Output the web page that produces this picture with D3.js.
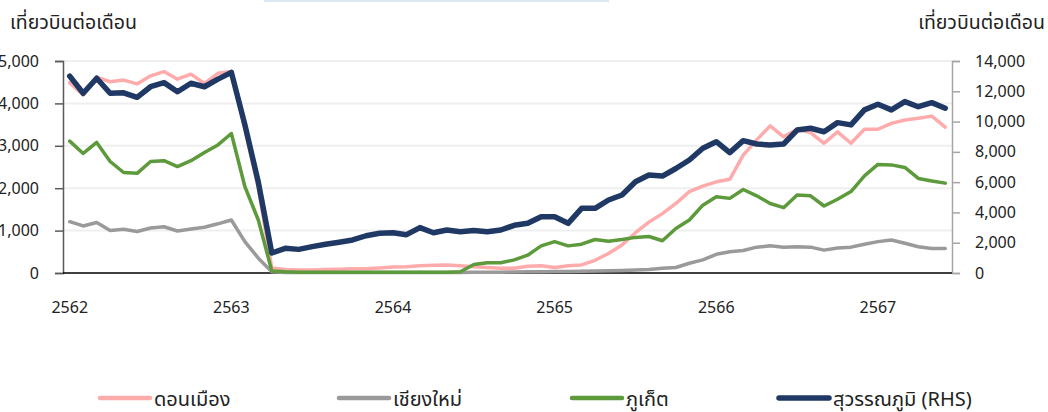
<!DOCTYPE html>
<html>
<head>
<meta charset="utf-8">
<script src="https://cdn.jsdelivr.net/npm/d3@7"></script>
<style>
  body { margin: 0; background: #fff; }
  svg { display: block; font-family: "Noto Sans", "Noto Sans Thai", sans-serif; }
</style>
</head>
<body>
<svg id="chart"></svg>
<script>
// Monthly flights, Jan 2562 - Jun 2567
const years = ["2562", "2563", "2564", "2565", "2566", "2567"];
const seriesNames = ["ดอนเมือง", "เชียงใหม่", "ภูเก็ต", "สุวรรณภูมิ (RHS)"];

const donMueang = [4490, 4200, 4620, 4510, 4550, 4460, 4650, 4750, 4570, 4690, 4470, 4710, 4750,
  3400, 2000, 120,
  80, 70, 70, 80, 90, 100, 100, 120, 140, 150, 170, 180, 190, 170, 150, 130, 110, 110, 160, 170,
  130, 170, 190, 300, 460, 660, 950, 1200, 1400,
  1640, 1920, 2050, 2150, 2210, 2780, 3140, 3470, 3210, 3390, 3310, 3060, 3330, 3060, 3390, 3390,
  3530, 3610, 3650, 3700, 3440];

const chiangMai = [1210, 1110, 1190, 1000, 1030, 980, 1060, 1090, 990, 1040, 1080, 1160, 1250,
  740, 350, 30,
  10, 10, 10, 10, 10, 10, 10, 10, 10, 10, 10, 10, 10, 10, 15, 20, 20, 25, 30, 30, 35, 35, 40, 50,
  55, 60, 70, 80, 110,
  130, 230, 310, 440, 500, 530, 610, 640, 610, 620, 610, 540, 590, 610, 680, 740, 780, 700, 620,
  580, 580];

const phuket = [3110, 2820, 3080, 2630, 2370, 2350, 2630, 2650, 2510, 2650, 2840, 3020, 3290,
  2040, 1250, 50,
  30, 20, 20, 20, 20, 20, 20, 20, 20, 20, 20, 20, 20, 30,
  200, 240, 240, 310, 420, 640, 740, 640, 680, 790, 750, 790, 840, 860, 760,
  1050, 1250, 1600, 1800, 1760, 1970, 1820, 1640, 1540, 1840, 1820, 1580, 1740, 1920, 2290, 2560,
  2550, 2490, 2230, 2170, 2120];

const suvarnabhumi = [13000, 11870, 12860, 11870, 11900, 11600, 12300, 12570, 11970, 12530, 12300, 12800, 13250,
  9800, 6000, 1320,
  1630, 1560, 1740, 1900, 2030, 2180, 2460, 2620, 2660, 2530, 3000, 2660, 2840, 2730, 2800, 2730,
  2840, 3150, 3280, 3720, 3720, 3280, 4270, 4270, 4820, 5150, 6030, 6470, 6400,
  6900, 7460, 8240, 8670, 7950, 8740, 8520, 8450, 8520, 9440, 9560, 9330, 9930, 9780, 10770, 11140,
  10770, 11320, 10980, 11250, 10880];

const leftTicks = [0, 1000, 2000, 3000, 4000, 5000];
const rightTicks = [0, 2000, 4000, 6000, 8000, 10000, 12000, 14000];

const width = 1048, height = 412;
const plot = {left: 63, right: 952, top: 61, bottom: 273};

const svg = d3.select("#chart").attr("width", width).attr("height", height);

// faint header strip at top
svg.append("rect").attr("x", 264).attr("y", 0).attr("width", 345).attr("height", 2).attr("fill", "#dde8f5");

const idx = d3.range(donMueang.length);
const x = d3.scalePoint(idx, [plot.left, plot.right]).padding(0.5);
const yL = d3.scaleLinear([0, 5000], [plot.bottom, plot.top]);
const yR = d3.scaleLinear([0, 14000], [plot.bottom, plot.top]);

// gridlines
svg.append("g")
  .selectAll("line")
  .data(leftTicks.slice(1))
  .join("line")
  .attr("x1", plot.left).attr("x2", plot.right)
  .attr("y1", d => yL(d)).attr("y2", d => yL(d))
  .attr("stroke", "#efefef").attr("stroke-width", 2);

// left axis (labels run off the left edge, as in the original)
const leftAxis = svg.append("g")
  .attr("transform", `translate(${plot.left},0)`)
  .call(d3.axisLeft(yL).tickValues(leftTicks).tickSize(8).tickPadding(16).tickFormat(d3.format(",")));
leftAxis.select(".domain").attr("stroke", "#595959").attr("stroke-width", 1.5);
leftAxis.selectAll(".tick line").attr("stroke", "#595959").attr("stroke-width", 1.5);
leftAxis.selectAll("text").attr("font-size", 16).attr("fill", "#222").attr("font-family", "Noto Sans");

// right axis
const rightAxis = svg.append("g")
  .attr("transform", `translate(${plot.right},0)`)
  .call(d3.axisRight(yR).tickValues(rightTicks).tickSize(8).tickPadding(15).tickFormat(d3.format(",")));
rightAxis.select(".domain").attr("stroke", "#a6a6a6").attr("stroke-width", 1.5);
rightAxis.selectAll(".tick line").attr("stroke", "#a6a6a6").attr("stroke-width", 1.5);
rightAxis.selectAll("text").attr("font-size", 16).attr("fill", "#222").attr("font-family", "Noto Sans");

// x axis
svg.append("line")
  .attr("x1", plot.left).attr("x2", plot.right)
  .attr("y1", plot.bottom).attr("y2", plot.bottom)
  .attr("stroke", "#000").attr("stroke-width", 1.5);

svg.append("g")
  .selectAll("text")
  .data(years)
  .join("text")
  .attr("x", (d, i) => x(i * 12))
  .attr("y", 313)
  .attr("text-anchor", "middle")
  .attr("font-size", 16)
  .attr("fill", "#222")
  .text(d => d);

// axis titles
svg.append("text").attr("x", 10).attr("y", 29).attr("font-size", 19.5).attr("fill", "#222").text("เที่ยวบินต่อเดือน");
svg.append("text").attr("x", 1045).attr("y", 29).attr("text-anchor", "end").attr("font-size", 19.5).attr("fill", "#222").text("เที่ยวบินต่อเดือน");

// lines
const series = [
  {data: donMueang, y: yL, color: "#ffabab", w: 3.5},
  {data: chiangMai, y: yL, color: "#9a9a9a", w: 3.5},
  {data: phuket, y: yL, color: "#5c9a3b", w: 3.5},
  {data: suvarnabhumi, y: yR, color: "#1f3864", w: 5.5}
];

series.forEach(s => {
  const line = d3.line().x((d, i) => x(i)).y(d => s.y(d));
  svg.append("path")
    .attr("d", line(s.data))
    .attr("fill", "none")
    .attr("stroke", s.color)
    .attr("stroke-width", s.w)
    .attr("stroke-linejoin", "round")
    .attr("stroke-linecap", "round");
});

// legend
const legendX = [98, 337, 570, 777];
const legend = svg.append("g");
series.forEach((s, i) => {
  const g = legend.append("g").attr("transform", `translate(${legendX[i]},398)`);
  g.append("line").attr("x1", 2).attr("x2", 52).attr("y1", 0).attr("y2", 0)
    .attr("stroke", s.color).attr("stroke-width", i === 3 ? 5.5 : 4.5).attr("stroke-linecap", "round");
  g.append("text").attr("x", 56).attr("y", 8).attr("font-size", 20).attr("fill", "#222").text(seriesNames[i]);
});
</script>
</body>
</html>
